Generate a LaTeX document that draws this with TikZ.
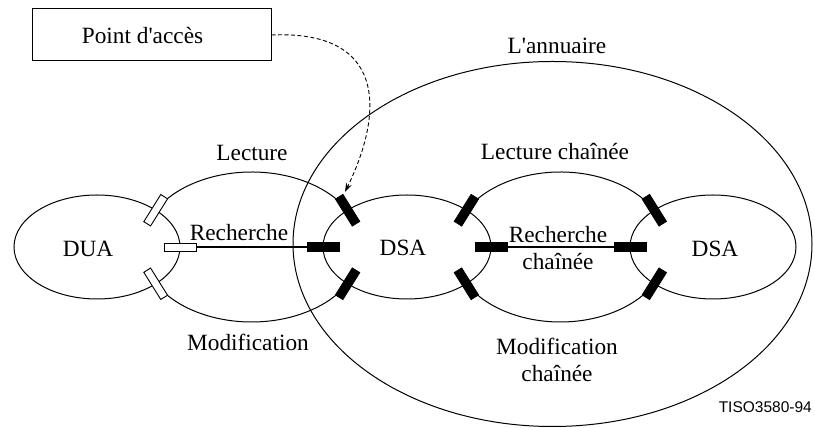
\documentclass[tikz,border=0pt]{standalone}
\usepackage{fontspec}
\setmainfont{Liberation Serif}
\newfontfamily\labelsans{Liberation Sans}
\usetikzlibrary{arrows.meta,calc,shapes.geometric}
\tikzset{
  ell/.style={draw, ellipse, inner sep=0pt, line width=1pt},
  smallell/.style={ell, minimum width=166pt, minimum height=104pt},
  plugw/.style={draw, fill=white, minimum width=32pt, minimum height=8pt, inner sep=0pt, line width=0.9pt},
  plugb/.style={draw, fill=black, minimum width=32pt, minimum height=9pt, inner sep=0pt, line width=0.6pt},
  arcline/.style={line width=1pt},
  reqline/.style={line width=1.7pt},
  lbl/.style={inner sep=0pt, align=center},
}
\begin{document}
\begin{tikzpicture}[x=1pt, y=1pt, font=\fontsize{23.3}{27}\selectfont]
\useasboundingbox (0,0) rectangle (815,428);

% Directory ellipse
\node[ell, minimum width=519pt, minimum height=365pt] (dir) at (552.5,184) {};

% small ellipses
\node[smallell] (dua) at (97,181) {};
\node[ell, minimum width=168pt, minimum height=104pt] (dsa1) at (407,181) {};
\node[smallell] (dsa2) at (713,181) {};

% plug anchor points
\coordinate (c1) at ($(dua.center)+(45:83pt and 52pt)$);
\coordinate (c2) at ($(dua.center)+(0:83pt and 52pt)$);
\coordinate (c3) at ($(dua.center)+(-45:83pt and 52pt)$);
\coordinate (c4) at ($(dsa1.center)+(135:84pt and 52pt)$);
\coordinate (c5) at ($(dsa1.center)+(180:84pt and 52pt)$);
\coordinate (c6) at ($(dsa1.center)+(225:84pt and 52pt)$);
\coordinate (c7) at ($(dsa1.center)+(45:84pt and 52pt)$);
\coordinate (c8) at ($(dsa1.center)+(0:84pt and 52pt)$);
\coordinate (c9) at ($(dsa1.center)+(-45:84pt and 52pt)$);
\coordinate (c10) at ($(dsa2.center)+(135:83pt and 52pt)$);
\coordinate (c11) at ($(dsa2.center)+(180:83pt and 52pt)$);
\coordinate (c12) at ($(dsa2.center)+(225:83pt and 52pt)$);

% association arcs
\draw[arcline] (c1) arc[start angle=150.64, end angle=29.36, x radius=110.09pt, y radius=75pt];
\draw[arcline] (c3) arc[start angle=209.36, end angle=330.64, x radius=110.09pt, y radius=75pt];
\draw[arcline] (c7) arc[start angle=150.64, end angle=29.36, x radius=107.8pt, y radius=75pt];
\draw[arcline] (c9) arc[start angle=209.36, end angle=330.64, x radius=107.8pt, y radius=75pt];

% plugs
\node[plugw, rotate=58] (ua45) at (c1) {};
\node[plugw] (ua0) at (c2) {};
\node[plugw, rotate=-58] (ua315) at (c3) {};
\node[plugb, rotate=-58] (d1p135) at (c4) {};
\node[plugb] (d1p180) at (c5) {};
\node[plugb, rotate=58] (d1p225) at (c6) {};
\node[plugb, rotate=58] (d1p45) at (c7) {};
\node[plugb] (d1p0) at (c8) {};
\node[plugb, rotate=-58] (d1p315) at (c9) {};
\node[plugb, rotate=-58] (d2p135) at (c10) {};
\node[plugb] (d2p180) at (c11) {};
\node[plugb, rotate=58] (d2p225) at (c12) {};

% request lines
\draw[reqline] (ua0) -- (d1p180);
\draw[reqline] (d1p0) -- (d2p180);

% access point box
\node[draw, line width=1pt, minimum width=239pt, minimum height=52pt, inner sep=0pt] (pa) at (151.5,393) {};
\node[lbl] (patxt) at (142.5,392) {Point d\textquotesingle accès};
\coordinate (tip) at (345,236);
\draw[line width=0.9pt, dash pattern=on 4pt off 2.5pt, -{Stealth[length=9pt, width=6pt]}]
  (pa.east) .. controls (385,398) and (385,318) .. (tip);

% labels
\node[lbl] (tdua) at (88,179) {DUA};
\node[lbl] (tdsa1) at (403,180) {DSA};
\node[lbl] (tdsa2) at (715,179) {DSA};
\node[lbl] (tlect) at (252,275) {Lecture};
\node[lbl] (trech) at (239,195) {Recherche};
\node[lbl] (tmod) at (248,86) {Modification};
\node[lbl] (tann) at (557,382) {L\textquotesingle annuaire};
\node[lbl] (tlectc) at (555,276) {Lecture chaînée};
\node[lbl] (trechc) at (558,180) {Recherche\\chaînée};
\node[lbl] (tmodc) at (557,68) {Modification\\chaînée};
\node[lbl, anchor=east, font=\labelsans\fontsize{15.5}{18}\selectfont] (tiso) at (812,21) {TISO3580-94};
\end{tikzpicture}
\end{document}
